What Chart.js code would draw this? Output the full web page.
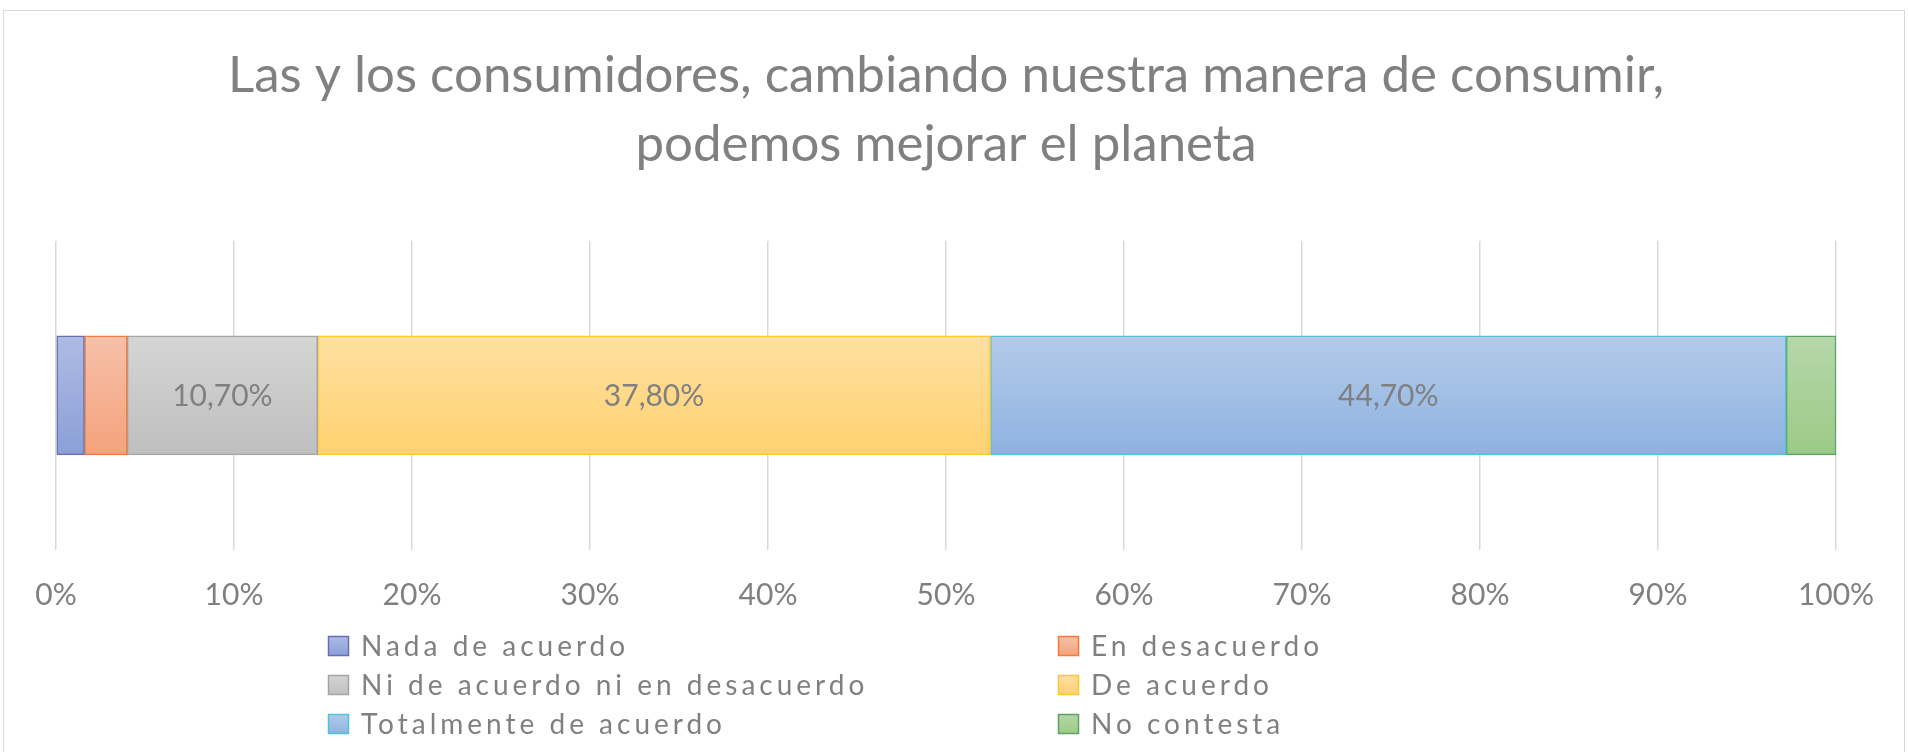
<!DOCTYPE html>
<html>
<head>
<meta charset="utf-8">
<script src="https://cdn.jsdelivr.net/npm/chart.js@4/dist/chart.umd.min.js"></script>
<style>
  html, body { margin: 0; padding: 0; background: #fff; }
</style>
</head>
<body>
<canvas id="chart" width="1908" height="752"></canvas>
<script>
// Chart data
const titleLines = [
  "Las y los consumidores, cambiando nuestra manera de consumir,",
  "podemos mejorar el planeta"
];
const categories = [""];
const seriesNames = [
  "Nada de acuerdo",
  "En desacuerdo",
  "Ni de acuerdo ni en desacuerdo",
  "De acuerdo",
  "Totalmente de acuerdo",
  "No contesta"
];
const seriesValues = [1.6, 2.4, 10.7, 37.8, 44.7, 2.8];
const tickLabels = ["0%", "10%", "20%", "30%", "40%", "50%", "60%", "70%", "80%", "90%", "100%"];

// Styles (top / bottom of gradient, border)
const fillTop = ["#aebbe3", "#f6c0a9", "#d5d5d5", "#ffe0a2", "#b4cbea", "#b7d7aa"];
const fillBottom = ["#8b9fd7", "#f4a27c", "#bfbfbf", "#ffd16f", "#8eb2e0", "#9bca86"];
const borderColors = ["#6470b2", "#f47b38", "#a5a5a5", "#ffc72c", "#4fc3d9", "#5ca466"];

const GRAY = "#808080";
const FONT = "Lato";
const BAR_PX = 119;

function barGradient(i) {
  return (ctx) => {
    const chart = ctx.chart;
    const area = chart.chartArea;
    if (!area) return fillBottom[i];
    const mid = (area.top + area.bottom) / 2;
    const g = chart.ctx.createLinearGradient(0, mid - BAR_PX / 2, 0, mid + BAR_PX / 2);
    g.addColorStop(0, fillTop[i]);
    g.addColorStop(1, fillBottom[i]);
    return g;
  };
}

// outer frame like the spreadsheet chart box
const framePlugin = {
  id: "frame",
  beforeDraw(chart) {
    const c = chart.ctx;
    c.save();
    c.fillStyle = "#fff";
    c.fillRect(0, 0, chart.width, chart.height);
    c.strokeStyle = "#d9d9d9";
    c.lineWidth = 1;
    c.strokeRect(3.5, 10.5, chart.width - 7, chart.height + 20);
    c.restore();
  }
};

// value labels in the middle of the wider segments
const valueLabels = {
  id: "valueLabels",
  afterDatasetsDraw(chart) {
    const c = chart.ctx;
    c.save();
    c.font = "30px " + FONT;
    c.fillStyle = GRAY;
    c.textAlign = "center";
    c.textBaseline = "middle";
    chart.data.datasets.forEach((ds, i) => {
      const v = ds.data[0];
      if (v < 5) return;
      const el = chart.getDatasetMeta(i).data[0];
      const txt = v.toFixed(2).replace(".", ",") + "%";
      c.fillText(txt, (el.x + el.base) / 2, el.y + 1);
    });
    c.restore();
  }
};

// two-column legend under the axis
const gridLegend = {
  id: "gridLegend",
  afterDraw(chart) {
    const c = chart.ctx;
    const colX = [328, 1058];
    const rowY = [646, 685, 724];
    c.save();
    c.font = "28px " + FONT;
    c.letterSpacing = "4px";
    c.textBaseline = "middle";
    c.textAlign = "left";
    chart.data.datasets.forEach((ds, i) => {
      const x = colX[i % 2];
      const y = rowY[Math.floor(i / 2)];
      const g = c.createLinearGradient(0, y - 10, 0, y + 10);
      g.addColorStop(0, fillTop[i]);
      g.addColorStop(1, fillBottom[i]);
      c.fillStyle = g;
      c.fillRect(x, y - 10, 21, 20);
      c.strokeStyle = borderColors[i];
      c.lineWidth = 1.5;
      c.strokeRect(x + 0.5, y - 9.5, 20, 19);
      c.fillStyle = GRAY;
      c.fillText(ds.label, x + 33, y + 1);
    });
    c.restore();
  }
};

const datasets = seriesNames.map((name, i) => ({
  label: name,
  data: [seriesValues[i]],
  backgroundColor: barGradient(i),
  borderColor: borderColors[i],
  borderWidth: 1.5,
  borderSkipped: false,
  barThickness: BAR_PX
}));

const ctx = document.getElementById("chart").getContext("2d");
new Chart(ctx, {
  type: "bar",
  data: { labels: categories, datasets: datasets },
  plugins: [framePlugin, valueLabels, gridLegend],
  options: {
    indexAxis: "y",
    responsive: false,
    animation: false,
    layout: { padding: { top: 10, left: 56, right: 72, bottom: 112 } },
    plugins: {
      legend: { display: false },
      tooltip: { enabled: false },
      title: {
        display: true,
        text: titleLines,
        color: GRAY,
        font: { family: FONT, size: 51, weight: "normal", lineHeight: 1.36 },
        padding: { top: 31, bottom: 61 }
      }
    },
    scales: {
      x: {
        stacked: true,
        min: 0,
        max: 100,
        ticks: {
          stepSize: 10,
          color: GRAY,
          font: { family: FONT, size: 30 },
          padding: 27,
          callback: (v, i) => tickLabels[i]
        },
        grid: { color: "#d9d9d9", lineWidth: 1.5, drawTicks: false },
        border: { display: false }
      },
      y: {
        stacked: true,
        display: false
      }
    }
  }
});
</script>
</body>
</html>
